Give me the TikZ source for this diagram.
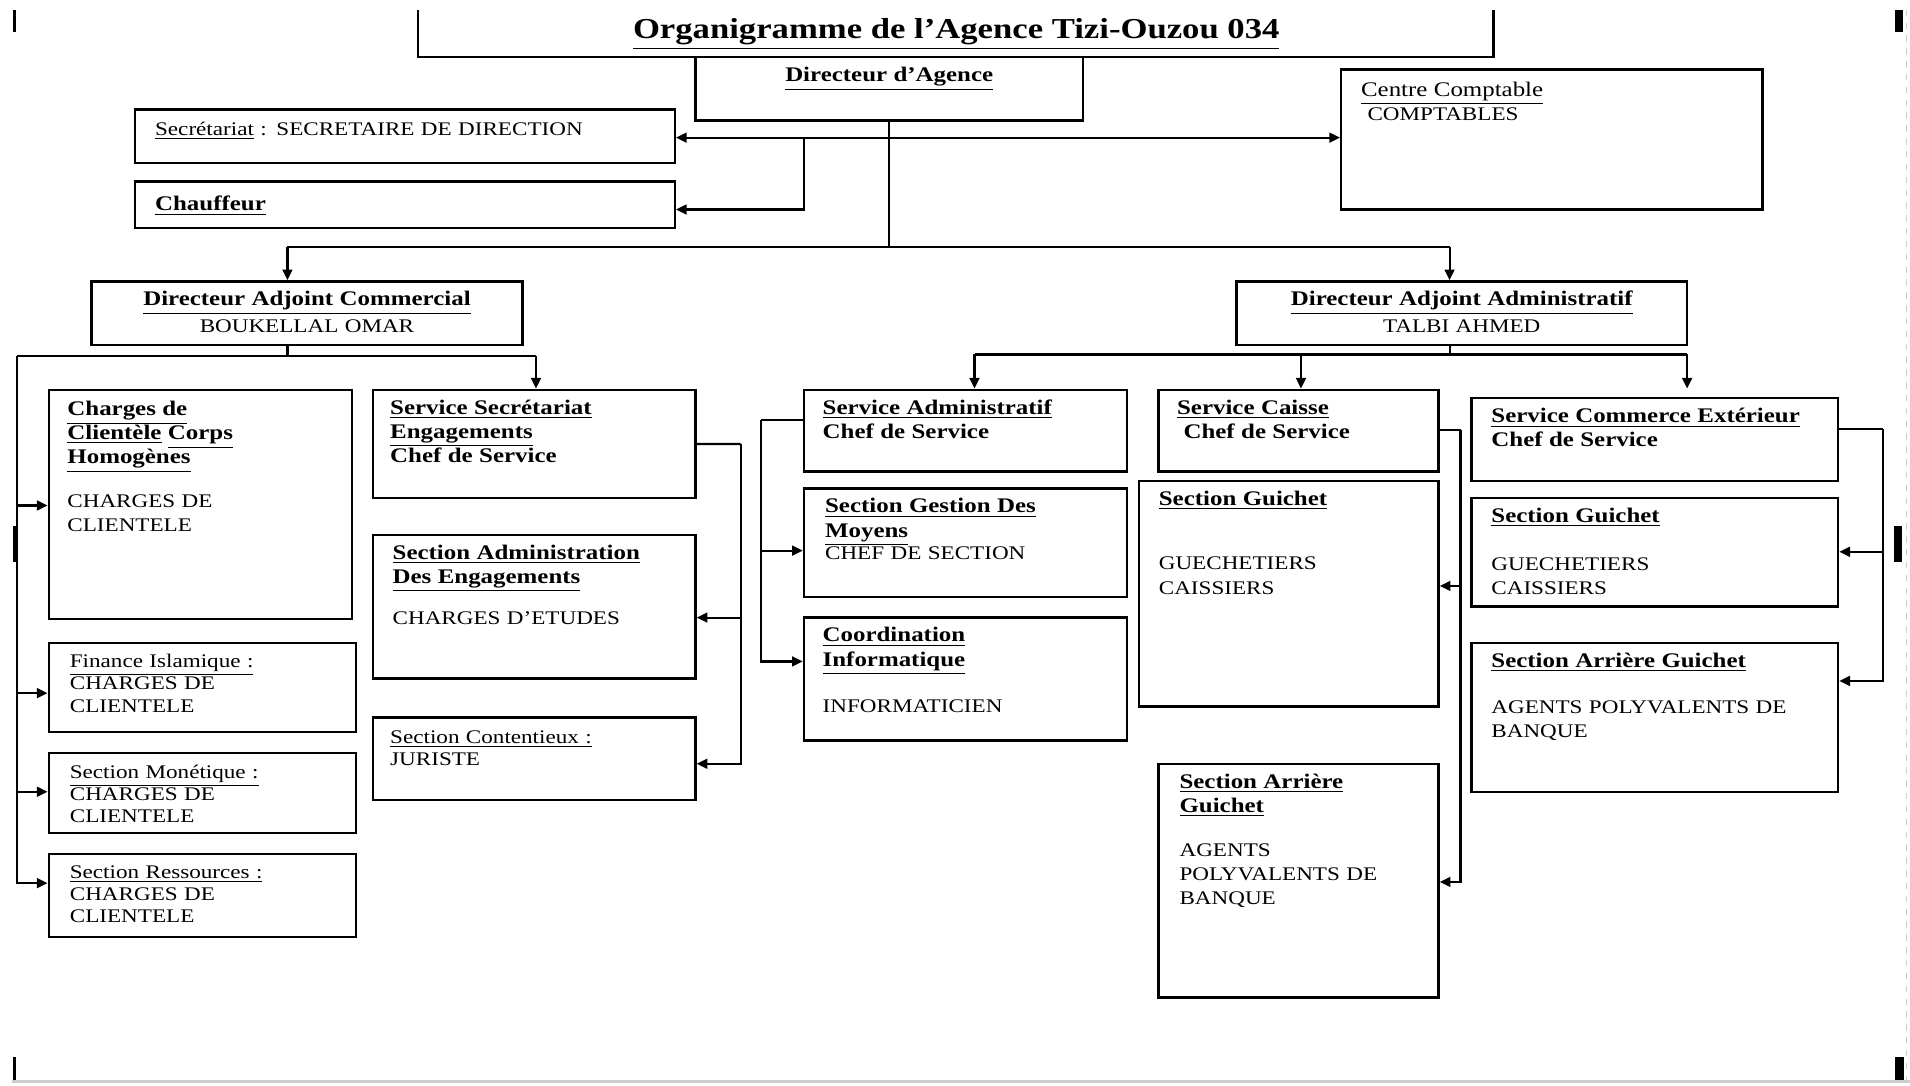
\documentclass[tikz,border=0pt]{standalone}
\usepackage{fontspec}
\setmainfont{Liberation Serif}[FakeStretch=1.2]
\usepackage{tikz}
\usetikzlibrary{arrows.meta,positioning,fit}
\definecolor{pagegray}{RGB}{205,205,205}
\newcommand{\gras}[1]{{\fontsize{9.7}{11.3}\selectfont\bfseries #1}}
\newcommand{\intitule}[1]{\gras{\underline{#1}}}

\begin{document}
\begin{tikzpicture}[
    x=0.02cm, y=-0.02cm,
    box/.style={rectangle, draw, line width=1.1pt, inner sep=0pt},
    txt/.style={anchor=base west, inner sep=0pt, text width=9cm, align=left, font=\fontsize{9}{11.3}\selectfont},
    ctxt/.style={anchor=base, inner sep=0pt, text width=9cm, align=center, font=\fontsize{9}{11.3}\selectfont},
    serre/.style={font=\fontsize{9}{10.4}\selectfont},
    lien/.style={line width=1pt},
    fleche/.style={line width=1pt, -{Triangle[length=5pt,width=4.6pt]}}
  ]
  \useasboundingbox (0,0) rectangle (1568,891);

  % bords de page
  \fill (10.5,8.5) rectangle (13.5,26);
  \fill (10.5,432) rectangle (14,461);
  \fill (10.5,868) rectangle (13.5,887);
  \fill (1556,8.5) rectangle (1562,26);
  \fill (1555,432) rectangle (1561,461);
  \fill (1556,868) rectangle (1563,887);
  \draw[pagegray, dashed, line width=0.6pt] (1565,8) -- (1565,887);
  \draw[pagegray, line width=1.2pt] (10,888) -- (1568,888);

  % titre
  \draw[line width=1.1pt] (343,8) -- (343,47) -- (1226,47) -- (1226,8);
  \node[anchor=base, inner sep=0pt, font=\fontsize{13.5}{16}\selectfont\bfseries] (titre) at (785,32) {\underline{Organigramme de l'Agence Tizi-Ouzou 034}};

  % direction
  \node[box, fit={(571,47) (889,99)}] (dir) {};
  \node[ctxt] (dir-t) at (730,67) {\intitule{Directeur d'Agence}};
  \node[box, fit={(111,90) (554,134)}] (sec) {};
  \node[txt] (sec-t) at (127,111) {\underline{Secrétariat} : SECRETAIRE DE DIRECTION};
  \node[box, fit={(111,149) (554,187)}] (chauf) {};
  \node[txt] (chauf-t) at (127,173) {\intitule{Chauffeur}};
  \node[box, fit={(1101,57) (1447,172)}] (cc) {};
  \node[txt] (cc-t) at (1117,79) {{\fontsize{9.7}{11.3}\selectfont\underline{Centre Comptable}}\\\hspace*{3pt}COMPTABLES};

  \node[box, fit={(75,231) (429,283)}] (dac) {};
  \node[ctxt] (dac-t) at (252,251) {\intitule{Directeur Adjoint Commercial}\\[1pt]BOUKELLAL OMAR};
  \node[box, fit={(1015,231) (1385,283)}] (daa) {};
  \node[ctxt] (daa-t) at (1200,251) {\intitule{Directeur Adjoint Administratif}\\[1pt]TALBI AHMED};

  % directeur adjoint commercial
  \node[box, fit={(40,320) (289,508)}] (cch) {};
  \node[txt] (cch-t) at (55,341) {\intitule{Charges de}\\\intitule{Clientèle} \intitule{Corps}\\\intitule{Homogènes}\\[9.2pt]CHARGES DE\\CLIENTELE};
  \node[box, fit={(40,528) (292,601)}] (fin) {};
  \node[txt, serre] (fin-t) at (57,548) {\underline{Finance Islamique :}\\CHARGES DE\\CLIENTELE};
  \node[box, fit={(40,618) (292,684)}] (mon) {};
  \node[txt, serre] (mon-t) at (57,639) {\underline{Section Monétique :}\\CHARGES DE\\CLIENTELE};
  \node[box, fit={(40,701) (292,769)}] (res) {};
  \node[txt, serre] (res-t) at (57,721) {\underline{Section Ressources :}\\CHARGES DE\\CLIENTELE};

  \node[box, fit={(306,320) (571,409)}] (sse) {};
  \node[txt] (sse-t) at (320,340) {\intitule{Service Secrétariat}\\\intitule{Engagements}\\\gras{Chef de Service}};
  \node[box, fit={(306,439) (571,557)}] (sae) {};
  \node[txt] (sae-t) at (322,459) {\intitule{Section Administration}\\\intitule{Des Engagements}\\[8pt]CHARGES D'ETUDES};
  \node[box, fit={(306,589) (571,657)}] (sct) {};
  \node[txt, serre] (sct-t) at (320,610) {\underline{Section Contentieux :}\\JURISTE};

  % directeur adjoint administratif
  \node[box, fit={(660,320) (925,387)}] (sad) {};
  \node[txt] (sad-t) at (675,340) {\intitule{Service Administratif}\\\gras{Chef de Service}};
  \node[box, fit={(660,401) (925,490)}] (sgm) {};
  \node[txt] (sgm-t) at (677,421) {\intitule{Section Gestion Des}\\\intitule{Moyens}\\[-1pt]CHEF DE SECTION};
  \node[box, fit={(660,507) (925,608)}] (coi) {};
  \node[txt] (coi-t) at (675,527) {\intitule{Coordination}\\\intitule{Informatique}\\[10.3pt]INFORMATICIEN};

  \node[box, fit={(951,320) (1181,387)}] (sca) {};
  \node[txt] (sca-t) at (966,340) {\intitule{Service Caisse}\\\hspace*{3pt}\gras{Chef de Service}};
  \node[box, fit={(935,395) (1181,580)}] (sgc) {};
  \node[txt] (sgc-t) at (951,415) {\intitule{Section Guichet}\\[18.8pt]GUECHETIERS\\CAISSIERS};
  \node[box, fit={(951,627) (1181,819)}] (sagc) {};
  \node[txt] (sagc-t) at (968,647) {\intitule{Section Arrière}\\\intitule{Guichet}\\[9.2pt]AGENTS\\POLYVALENTS DE\\BANQUE};

  \node[box, fit={(1208,327) (1509,395)}] (sce) {};
  \node[txt] (sce-t) at (1224,347) {\intitule{Service Commerce Extérieur}\\\gras{Chef de Service}};
  \node[box, fit={(1208,409) (1509,498)}] (sge) {};
  \node[txt] (sge-t) at (1224,429) {\intitule{Section Guichet}\\[10.9pt]GUECHETIERS\\CAISSIERS};
  \node[box, fit={(1208,528) (1509,650)}] (sage) {};
  \node[txt] (sage-t) at (1224,548) {\intitule{Section Arrière Guichet}\\[10.3pt]AGENTS POLYVALENTS DE\\BANQUE};

  % liaisons du directeur
  \coordinate (kdir) at (730,203);
  \coordinate (kdac) at (236,203);
  \coordinate (kdaa) at (1190,203);
  \coordinate (ksec) at (660,113);
  \draw[lien] (dir.south) -- (kdir);
  \draw[lien] (kdac) -- (kdaa);
  \draw[fleche] (kdac) -- (kdac |- dac.north);
  \draw[fleche] (kdaa) -- (kdaa |- daa.north);
  \draw[line width=1pt, {Triangle[length=5pt,width=4.6pt]}-{Triangle[length=5pt,width=4.6pt]}] (sec.east |- ksec) -- (cc.west |- ksec);
  \draw[fleche] (ksec) |- (chauf.east |- 0,172);

  % branche commerciale
  \coordinate (kcom) at (236,292);
  \coordinate (gauche) at (14,292);
  \coordinate (kssec) at (440,292);
  \coordinate (dsec) at (608,364.5);
  \draw[lien] (kcom |- dac.south) -- (kcom);
  \draw[lien] (gauche) -- (kssec);
  \draw[fleche] (kssec) -- (kssec |- sse.north);
  \draw[fleche] (gauche) |- (res.west |- 0,725);
  \draw[fleche] (gauche |- 0,415) -- (cch.west |- 0,415);
  \draw[fleche] (gauche |- 0,569) -- (fin.west |- 0,569);
  \draw[fleche] (gauche |- 0,650) -- (mon.west |- 0,650);
  \draw[lien] (sse.east) -- (dsec);
  \draw[fleche] (dsec) |- (sct.east |- 0,627);
  \draw[fleche] (dsec |- 0,507) -- (sae.east |- 0,507);

  % branche administrative
  \coordinate (kadm) at (1190,291);
  \coordinate (ksad) at (800,291);
  \coordinate (ksca) at (1068,291);
  \coordinate (ksce) at (1385,291);
  \coordinate (gsad) at (625,345);
  \coordinate (dsca) at (1199,353);
  \coordinate (dsce) at (1546,352);
  \draw[lien] (kdaa |- daa.south) -- (kadm);
  \draw[lien] (ksad) -- (ksce);
  \draw[fleche] (ksad) -- (ksad |- sad.north);
  \draw[fleche] (ksca) -- (ksca |- sca.north);
  \draw[fleche, shorten >=4pt] (ksce) -- (ksce |- sce.north);
  \draw[lien] (sad.west |- gsad) -- (gsad);
  \draw[fleche] (gsad) |- (coi.west |- 0,543);
  \draw[fleche] (gsad |- 0,452) -- (sgm.west |- 0,452);
  \draw[lien] (sca.east |- dsca) -- (dsca);
  \draw[fleche] (dsca) |- (sagc.east |- 0,724);
  \draw[fleche] (dsca |- 0,481) -- (sgc.east |- 0,481);
  \draw[lien] (sce.east |- dsce) -- (dsce);
  \draw[fleche] (dsce) |- (sage.east |- 0,559);
  \draw[fleche] (dsce |- 0,453) -- (sge.east |- 0,453);
\end{tikzpicture}
\end{document}
